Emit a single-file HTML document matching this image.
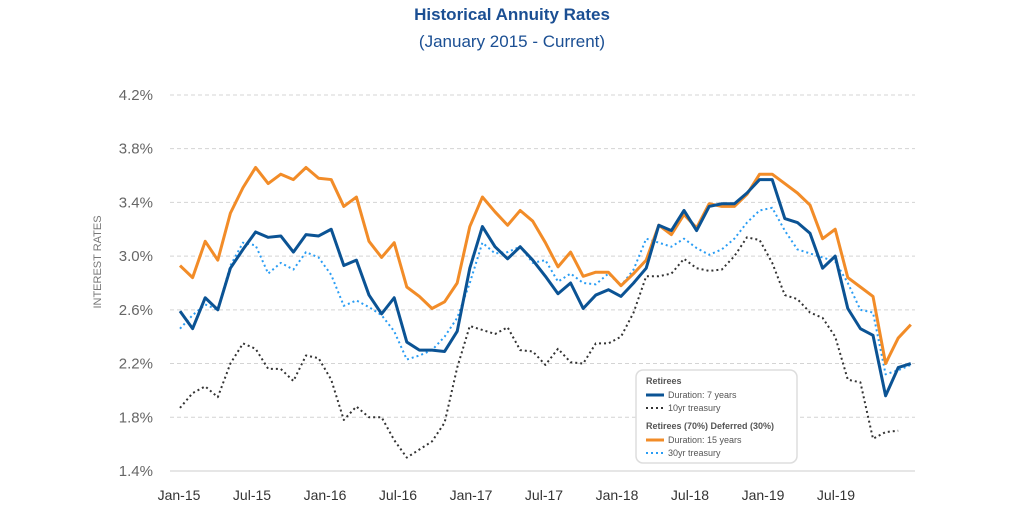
<!DOCTYPE html>
<html><head><meta charset="utf-8"><style>
body{margin:0;background:#fff;width:1024px;height:512px;overflow:hidden;font-family:"Liberation Sans",sans-serif}
</style></head><body>
<svg width="1024" height="512" xmlns="http://www.w3.org/2000/svg">
<text x="512" y="20" text-anchor="middle" font-size="17" font-weight="bold" fill="#1b4f93">Historical Annuity Rates</text>
<text x="512" y="47" text-anchor="middle" font-size="17" fill="#1b4f93">(January 2015 - Current)</text>
<text transform="translate(101,262) rotate(-90)" text-anchor="middle" font-size="11" fill="#777">INTEREST RATES</text>
<g id="grid"></g><g id="series"></g>
<g>
<rect x="636" y="370" width="161" height="93" rx="7" fill="#fff" stroke="#ddd" stroke-width="1.5"/>
<text x="646" y="384" font-size="9" font-weight="bold" fill="#555">Retirees</text>
<line x1="646" y1="395" x2="664" y2="395" stroke="#0b5394" stroke-width="3"/>
<text x="668" y="398" font-size="9" fill="#555">Duration: 7 years</text>
<line x1="646" y1="408" x2="664" y2="408" stroke="#333" stroke-width="2" stroke-dasharray="2 3"/>
<text x="668" y="411" font-size="9" fill="#555">10yr treasury</text>
<text x="646" y="429" font-size="9" font-weight="bold" fill="#555">Retirees (70%) Deferred (30%)</text>
<line x1="646" y1="440" x2="664" y2="440" stroke="#f28c28" stroke-width="3"/>
<text x="668" y="443" font-size="9" fill="#555">Duration: 15 years</text>
<line x1="646" y1="453" x2="664" y2="453" stroke="#2a9df4" stroke-width="2" stroke-dasharray="2 3"/>
<text x="668" y="456" font-size="9" fill="#555">30yr treasury</text>
</g>
</svg>
<script>
const yTicks=[1.4,1.8,2.2,2.6,3.0,3.4,3.8,4.2];
const xTickLabels=["Jan-15","Jul-15","Jan-16","Jul-16","Jan-17","Jul-17","Jan-18","Jul-18","Jan-19","Jul-19"];
const dur15=[2.93,2.84,3.11,2.97,3.32,3.51,3.66,3.54,3.61,3.57,3.66,3.58,3.57,3.37,3.44,3.11,2.99,3.10,2.77,2.70,2.61,2.66,2.80,3.22,3.44,3.33,3.23,3.34,3.26,3.10,2.92,3.03,2.85,2.88,2.88,2.78,2.87,2.97,3.23,3.16,3.31,3.21,3.39,3.37,3.37,3.46,3.61,3.61,3.54,3.47,3.38,3.13,3.20,2.84,2.77,2.70,2.20,2.39,2.49];
const dur7=[2.59,2.46,2.69,2.60,2.91,3.05,3.18,3.14,3.15,3.03,3.16,3.15,3.20,2.93,2.97,2.71,2.57,2.69,2.36,2.30,2.30,2.29,2.44,2.91,3.22,3.07,2.98,3.07,2.97,2.85,2.72,2.80,2.61,2.71,2.75,2.70,2.80,2.91,3.23,3.19,3.34,3.19,3.37,3.39,3.39,3.47,3.57,3.57,3.28,3.25,3.17,2.91,3.00,2.61,2.46,2.41,1.96,2.17,2.20];
const tsy30=[2.46,2.56,2.64,2.60,2.93,3.10,3.08,2.87,2.95,2.90,3.03,2.99,2.86,2.63,2.67,2.62,2.56,2.44,2.23,2.26,2.30,2.40,2.54,2.80,3.10,3.02,3.03,3.07,2.95,2.97,2.81,2.87,2.80,2.79,2.87,2.78,2.90,3.13,3.10,3.07,3.13,3.06,3.01,3.05,3.13,3.25,3.34,3.36,3.19,3.05,3.02,2.99,2.96,2.80,2.60,2.58,2.12,2.15,2.19];
const tsy10=[1.87,1.98,2.03,1.95,2.20,2.35,2.31,2.16,2.16,2.07,2.26,2.24,2.08,1.78,1.88,1.80,1.80,1.63,1.50,1.56,1.62,1.76,2.17,2.48,2.45,2.42,2.47,2.30,2.29,2.19,2.31,2.21,2.20,2.35,2.35,2.40,2.58,2.85,2.85,2.87,2.98,2.91,2.89,2.90,3.00,3.14,3.12,2.95,2.71,2.68,2.58,2.54,2.40,2.08,2.06,1.64,1.69,1.70];
const NS="http://www.w3.org/2000/svg";
const yS=v=>471-(v-1.4)*134.3;
const xS=i=>180+i*12.6;
const tickX=k=>179+k*73.0;
const grid=document.getElementById('grid'),ser=document.getElementById('series');
function mk(t,a,p){const e=document.createElementNS(NS,t);for(const k in a)e.setAttribute(k,a[k]);p.appendChild(e);return e;}
yTicks.forEach((v,i)=>{
 const l=mk('line',{x1:170,x2:915,y1:yS(v),y2:yS(v),stroke:i==0?'#ccc':'#d4d4d4','stroke-width':1,'stroke-dasharray':i==0?'':'4 3'},grid);
 
 
 const t=mk('text',{x:153,y:yS(v)+5,'text-anchor':'end','font-size':15,fill:'#666'},grid);
 t.textContent=v.toFixed(1)+'%';
 
 
});
xTickLabels.forEach((s,k)=>{
 const t=mk('text',{x:tickX(k),y:500,'text-anchor':'middle','font-size':14,fill:'#333'},grid);
 t.textContent=s;
 
 
});
function line(d,col,w,dash,name){
 const p=mk('polyline',{points:d.map((v,i)=>xS(i)+','+yS(v)).join(' '),fill:'none',stroke:col,'stroke-width':w,'stroke-linejoin':'round','stroke-dasharray':dash},ser);
 
 
}
line(tsy10,'#333',2,'2 3','line-10yr-treasury');
line(tsy30,'#2a9df4',2,'2 3','line-30yr-treasury');
line(dur15,'#f28c28',3,'','line-duration-15');
line(dur7,'#0b5394',3,'','line-duration-7');
</script>
</body></html>
